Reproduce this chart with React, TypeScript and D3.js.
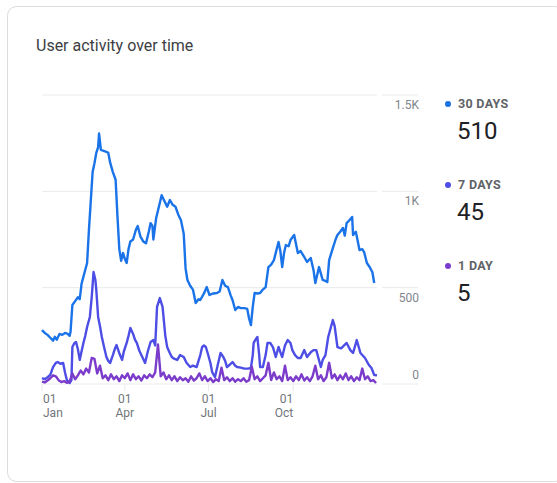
import React from "react";
import * as d3 from "d3";

const YEAR = 2023;

const days30 = [0,3,6,9,12,14,16,19,22,25,28,30,31,33,36,39,41,43,46,49,51,53,55,57,59,61,62,64,67,70,72,74,77,80,82,84,86,88,90,92,94,96,99,102,104,107,110,113,116,118,120,121,124,127,130,133,136,139,142,145,148,151,154,156,158,161,164,167,170,172,176,179,182,186,190,193,196,199,202,205,207,210,213,216,220,223,225,227,229,231,234,237,240,243,246,249,252,255,257,259,261,263,265,268,270,274,278,281,285,288,292,295,297,301,305,308,310,312,316,319,321,324,327,329,331,334,337,338,341,345,348,350,353,356,359,361,364];
const users30 = [280,265,255,240,225,245,230,260,255,265,260,250,270,410,430,450,440,520,575,628,800,950,1100,1146,1200,1230,1300,1215,1210,1205,1200,1150,1100,1060,870,700,640,680,650,628,700,740,750,800,820,765,740,730,790,835,820,750,860,920,980,950,920,955,930,920,880,850,780,600,540,510,490,420,440,436,470,503,462,470,472,480,540,510,503,460,436,384,400,394,394,390,340,306,400,472,470,472,490,503,607,620,643,700,737,690,607,680,721,715,747,773,680,690,659,633,654,592,524,607,540,535,529,643,705,750,773,790,810,770,835,850,867,773,790,695,700,685,628,607,580,524];

const days7 = [0,3,6,9,12,15,17,20,23,25,27,30,32,33,35,37,39,41,43,45,47,49,52,54,56,58,59,61,63,65,68,70,72,74,77,79,81,84,87,89,92,94,96,99,101,103,106,109,112,115,118,121,123,125,128,131,134,136,139,141,144,147,150,154,157,161,164,168,172,174,176,178,180,183,185,188,191,194,197,199,201,204,207,210,212,216,220,224,227,229,230,232,234,236,237,240,243,245,248,251,254,257,259,261,264,267,270,272,275,278,281,285,288,292,295,298,303,305,308,311,316,318,321,325,331,335,338,342,346,351,355,358,361,364];
const users7 = [31,25,35,47,88,110,114,105,109,60,21,5,20,192,210,218,180,125,170,213,250,296,348,450,581,540,488,348,300,244,180,140,120,109,150,180,202,160,125,170,213,250,291,260,230,213,170,140,109,170,218,228,200,400,446,400,250,192,160,140,130,125,150,140,110,88,95,88,150,192,200,192,161,109,60,36,100,161,140,120,88,100,114,95,88,85,80,80,83,150,213,230,244,150,88,88,150,213,213,190,140,192,165,140,200,228,213,176,150,135,135,176,140,165,176,176,88,125,150,244,332,300,192,185,213,176,161,228,161,135,100,83,47,45];

const days1 = d3.range(0, 364, 3);
const users1 = [12,8,18,30,45,40,20,10,15,6,12,55,25,45,70,50,80,60,135,130,55,95,30,45,20,50,25,40,15,45,30,55,20,50,25,40,18,45,30,50,35,60,205,40,60,25,45,20,40,15,35,20,30,12,40,18,30,55,20,40,15,30,10,25,15,85,20,35,15,30,12,25,15,30,12,20,90,25,40,15,30,45,110,20,60,25,40,15,95,20,35,15,40,20,50,18,35,15,40,95,25,45,15,35,110,30,50,20,45,25,55,20,40,15,35,20,80,25,40,15,20,5];

const yTicks = [0, 500, 1000, 1500];
const yTickLabels = ["0", "500", "1K", "1.5K"];

const legendLabels = ["30 DAYS", "7 DAYS", "1 DAY"];
const legendValues = ["510", "45", "5"];
const seriesColors = ["#1a73e8", "#4d4ee6", "#7b3ccb"];

export default function App() {
  const start = new Date(YEAR, 0, 1);
  const end = new Date(YEAR, 11, 31);
  const x = d3.scaleTime().domain([start, end]).range([42, 377]);
  const y = d3.scaleLinear().domain([0, 1500]).range([384, 95]);
  const toDate = (d: number) => d3.timeDay.offset(start, d);

  const line = d3
    .line<[number, number]>()
    .x((p) => x(toDate(p[0])))
    .y((p) => y(p[1]))
    .curve(d3.curveLinear);

  const series = [
    days30.map((d, i) => [d, users30[i]] as [number, number]),
    days7.map((d, i) => [d, users7[i]] as [number, number]),
    days1.map((d, i) => [d, users1[i]] as [number, number]),
  ];

  const xTicks = x.ticks(d3.timeMonth.every(3) as any);
  const fmtDay = d3.timeFormat("%d");
  const fmtMon = d3.timeFormat("%b");
  const font = "Roboto, 'Noto Sans', sans-serif";

  return (
    <svg
      width={557}
      height={483}
      style={{ position: "absolute", left: 0, top: 0, fontFamily: font }}
    >
      <rect x={7.5} y={6.5} width={556} height={475} rx={9} fill="#fff" stroke="#dadce0" />
      <text x={36} y={51} fontSize={16} fill="#3c4043">
        User activity over time
      </text>
      {yTicks.map((t, i) => (
        <g key={t}>
          <line x1={42} x2={377} y1={y(t)} y2={y(t)} stroke="#e8eaed" strokeWidth={1} />
          <line x1={382} x2={418} y1={y(t)} y2={y(t)} stroke="#e8eaed" strokeWidth={1} />
          <text
            x={419}
            y={t === 0 ? y(t) - 5 : y(t) + 14}
            textAnchor="end"
            fontSize={12}
            fill="#80868b"
          >
            {yTickLabels[i]}
          </text>
        </g>
      ))}
      {xTicks.map((t, i) => {
        const tx = x(t);
        const anchor = i === 0 ? "start" : i === xTicks.length - 1 ? "end" : "middle";
        const lx = i === 0 ? tx + 1 : tx;
        return (
          <g key={i}>
            <line x1={tx} x2={tx} y1={384} y2={391} stroke="#e8eaed" />
            <text x={lx} y={403} textAnchor={anchor} fontSize={12} fill="#70757a">
              {fmtDay(t)}
            </text>
            <text x={lx} y={417} textAnchor={anchor} fontSize={12} fill="#70757a">
              {fmtMon(t)}
            </text>
          </g>
        );
      })}
      {series.map((s, i) => (
        <path
          key={i}
          d={line(s) || ""}
          fill="none"
          stroke={seriesColors[i]}
          strokeWidth={2.4}
          strokeLinejoin="round"
        />
      ))}
      {legendLabels.map((lab, i) => {
        const top = 103 + i * 81;
        return (
          <g key={lab}>
            <circle cx={448} cy={top + 1} r={3} fill={seriesColors[i]} />
            <text x={458} y={top + 5} fontSize={12.5} fontWeight={700} fill="#5f6368" letterSpacing={0.3}>
              {lab}
            </text>
            <text x={457} y={top + 36} fontSize={24} fill="#202124">
              {legendValues[i]}
            </text>
          </g>
        );
      })}
    </svg>
  );
}
